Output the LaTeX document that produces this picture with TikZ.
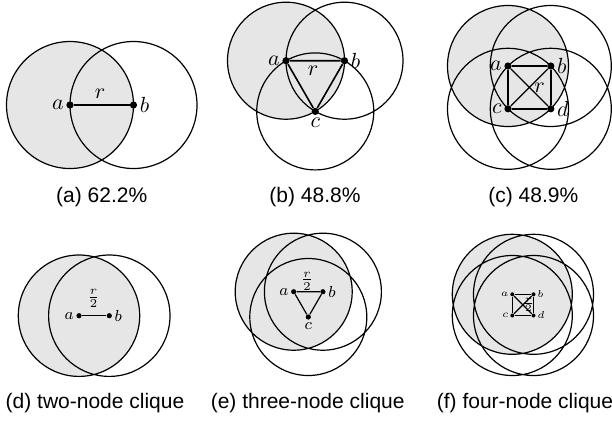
\documentclass[tikz,border=0pt]{standalone}
\usepackage{fontspec}
\setsansfont{Liberation Sans}
\usetikzlibrary{positioning, backgrounds}
\definecolor{diskgrey}{HTML}{E6E6E6}

\begin{document}
\begin{tikzpicture}[
    x=0.5pt, y=0.5pt,
    ring/.style={draw=black, line width=0.6pt},
    disk/.style={fill=diskgrey},
    vtx/.style={circle, fill=black, inner sep=0pt, minimum size=3.6pt},
    svtx/.style={circle, fill=black, inner sep=0pt, minimum size=2.6pt},
    tvtx/.style={circle, fill=black, inner sep=0pt, minimum size=2pt},
    edge/.style={line width=0.8pt},
    sedge/.style={line width=0.6pt},
    lbl/.style={inner sep=1pt, font=\fontsize{10.5}{12}\selectfont},
    slbl/.style={inner sep=1pt, font=\fontsize{8.5}{10}\selectfont},
    tlbl/.style={inner sep=0.5pt, font=\fontsize{5}{6}\selectfont},
    capt/.style={font=\sffamily\fontsize{10.5}{12}\selectfont},
]
\useasboundingbox (0,0) rectangle (612,-420);

% (a) two nodes at distance r
\node[vtx] (a1) at (70,-105) {};
\node[vtx] (b1) at (133.5,-105) {};
\node[lbl, left=0pt of a1] (la1) {$a$};
\node[lbl, right=0pt of b1] (lb1) {$b$};
\node[lbl] (r1) at (100,-94) {$r$};
\draw[edge] (a1) -- (b1);
\begin{scope}[on background layer]
  \path[disk] (a1.center) circle[radius=63.5];
  \draw[ring] (a1.center) circle[radius=63.5] (b1.center) circle[radius=63.5];
\end{scope}
\node[capt] (capa) at (101.7,-197) {(a) 62.2\%};

% (b) triangle of side r
\node[vtx] (a2) at (286,-60.7) {};
\node[vtx] (b2) at (344.5,-60.7) {};
\node[vtx] (c2) at (315.25,-111.4) {};
\node[lbl, left=0pt of a2] (la2) {$a$};
\node[lbl, right=0pt of b2] (lb2) {$b$};
\node[lbl, below=0pt of c2] (lc2) {$c$};
\node[lbl] (r2) at (313,-71) {$r$};
\draw[edge] (a2) -- (b2) -- (c2) -- (a2);
\begin{scope}[on background layer]
  \path[disk] (a2.center) circle[radius=58.5];
  \draw[ring] (a2.center) circle[radius=58.5] (b2.center) circle[radius=58.5]
              (c2.center) circle[radius=58.5];
\end{scope}
\node[capt] (capb) at (315,-197) {(b) 48.8\%};

% (c) square with diagonal r
\node[vtx] (a3) at (508,-66) {};
\node[vtx] (b3) at (550.8,-66) {};
\node[vtx] (c3) at (508,-108.8) {};
\node[vtx] (d3) at (550.8,-108.8) {};
\node[lbl, left=0pt of a3] (la3) {$a$};
\node[lbl, right=0pt of b3] (lb3) {$b$};
\node[lbl, left=0pt of c3] (lc3) {$c$};
\node[lbl, right=0pt of d3] (ld3) {$d$};
\node[lbl] (r3) at (539.5,-87.3) {$r$};
\draw[edge] (a3) -- (b3) -- (d3) -- (c3) -- (a3);
\draw[sedge] (a3) -- (d3) (b3) -- (c3);
\begin{scope}[on background layer]
  \path[disk] (a3.center) circle[radius=60.5];
  \draw[ring] (a3.center) circle[radius=60.5] (b3.center) circle[radius=60.5]
              (c3.center) circle[radius=60.5] (d3.center) circle[radius=60.5];
\end{scope}
\node[capt] (capc) at (533.3,-197) {(c) 48.9\%};

% (d) two-node clique
\node[svtx] (a4) at (79,-315.7) {};
\node[svtx] (b4) at (109.3,-315.7) {};
\node[slbl, left=0pt of a4] (la4) {$a$};
\node[slbl, right=0pt of b4] (lb4) {$b$};
\node[slbl] (r4) at (93.5,-298.5) {$\frac{r}{2}$};
\draw[sedge] (a4) -- (b4);
\begin{scope}[on background layer]
  \path[disk] (a4.center) circle[radius=60.7];
  \draw[ring] (a4.center) circle[radius=60.7] (b4.center) circle[radius=60.7];
\end{scope}
\node[capt] (capd) at (95,-402.7) {(d) two-node clique};

% (e) three-node clique
\node[svtx] (a5) at (293.7,-291.7) {};
\node[svtx] (b5) at (322.9,-291.7) {};
\node[svtx] (c5) at (308.3,-317) {};
\node[slbl, left=0pt of a5] (la5) {$a$};
\node[slbl, right=0pt of b5] (lb5) {$b$};
\node[slbl, below=0pt of c5] (lc5) {$c$};
\node[slbl] (r5) at (307,-281) {$\frac{r}{2}$};
\draw[sedge] (a5) -- (b5) -- (c5) -- (a5);
\begin{scope}[on background layer]
  \path[disk] (a5.center) circle[radius=58.5];
  \draw[ring] (a5.center) circle[radius=58.5] (b5.center) circle[radius=58.5]
              (c5.center) circle[radius=58.5];
\end{scope}
\node[capt] (cape) at (307.7,-402.7) {(e) three-node clique};

% (f) four-node clique
\node[tvtx] (a6) at (512.3,-294.3) {};
\node[tvtx] (b6) at (533.5,-294.3) {};
\node[tvtx] (c6) at (512.3,-315.5) {};
\node[tvtx] (d6) at (533.5,-315.5) {};
\node[tlbl, left=0pt of a6] (la6) {$a$};
\node[tlbl, right=0pt of b6] (lb6) {$b$};
\node[tlbl, left=0pt of c6] (lc6) {$c$};
\node[tlbl, right=0pt of d6] (ld6) {$d$};
\node[tlbl] (r6) at (528.5,-304.5) {$\frac{r}{2}$};
\draw[sedge] (a6) -- (b6) -- (d6) -- (c6) -- (a6);
\draw[sedge] (a6) -- (d6) (b6) -- (c6);
\begin{scope}[on background layer]
  \path[disk] (a6.center) circle[radius=60];
  \draw[ring] (a6.center) circle[radius=60] (b6.center) circle[radius=60]
              (c6.center) circle[radius=60] (d6.center) circle[radius=60];
\end{scope}
\node[capt] (capf) at (525,-402.7) {(f) four-node clique};

\end{tikzpicture}
\end{document}
